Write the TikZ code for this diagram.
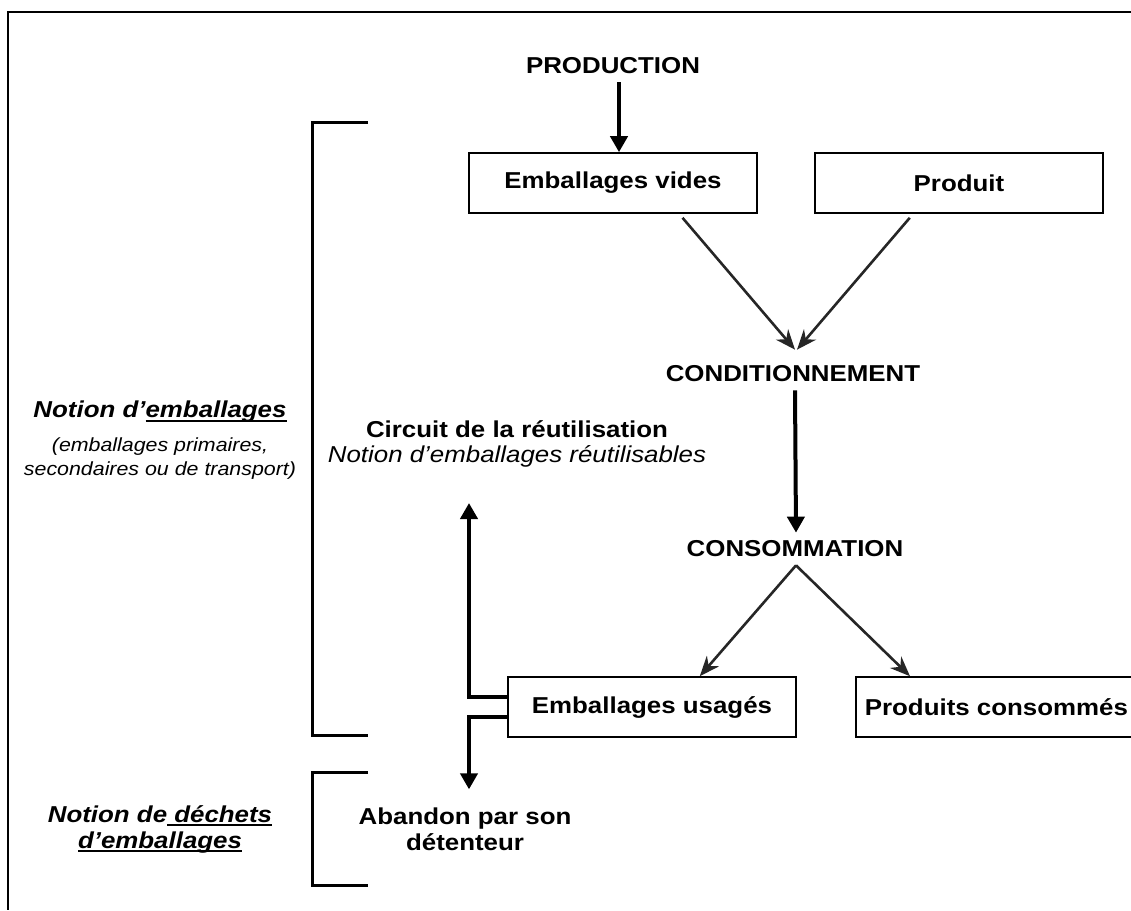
\documentclass[tikz,border=0pt]{standalone}
\usepackage{fontspec}
\setmainfont[FakeStretch=1.125]{Liberation Sans}
\usetikzlibrary{arrows.meta}
\usetikzlibrary{calc}

\newcommand{\souligne}[1]{\leavevmode\setbox0=\hbox{#1}\rlap{\rule[-4pt]{\wd0}{1.6pt}}\box0}

\tikzset{
  boite/.style={draw, line width=1.6pt, minimum width=288pt, minimum height=60pt, inner sep=0pt, font=\fontsize{23}{27}\selectfont\bfseries},
  titre/.style={inner xsep=2pt, inner ysep=8pt, font=\fontsize{23}{27}\selectfont\bfseries},
  fleche/.style={line width=4pt, -{Triangle[length=16pt,width=17pt]}},
  oblique/.style={line width=2.6pt, draw=black!85, -{Stealth[length=20pt,width=16pt]}},
  accolade/.style={line width=3pt},
}

\begin{document}
\begin{tikzpicture}[x=1pt,y=-1pt]
\useasboundingbox (0,0) rectangle (1131,910);
% cadre
\draw[line width=1.5pt] (1131,12) -- (8,12) -- (8,910);

% chaine principale
\node[titre] (prod) at (613,66) {PRODUCTION};
\node[boite] (vides) at (613,183) {Emballages vides};
\node[boite] (produit) at (959,183) {Produit};
\node[titre] (cond) at (793,374) {CONDITIONNEMENT};
\node[titre] (conso) at (795,549) {CONSOMMATION};
\node[boite] (usages) at (652,707) {Emballages usagés};
\node[boite, anchor=west, minimum width=0pt, inner xsep=9pt] (consommes) at (855,707) {Produits consommés};
\node[titre, align=center, font=\fontsize{23}{26}\selectfont\bfseries] (aband) at (465,829) {Abandon par son\\détenteur};
\node[align=center, font=\fontsize{23}{25}\selectfont] (circuit) at (517,444) {\textbf{Circuit de la réutilisation}\\\textit{Notion d’emballages réutilisables}};

\draw[fleche] ([xshift=6pt]prod.south) -- ([xshift=6pt]vides.north);
\draw[oblique] ([yshift=-4pt]$(vides.south west)!0.74!(vides.south east)$) -- ([xshift=2pt,yshift=8pt]cond.north);
\draw[oblique] ([yshift=-4pt]$(produit.south west)!0.33!(produit.south east)$) -- ([xshift=4pt,yshift=8pt]cond.north);
\draw[fleche] ([xshift=2pt]cond.south) -- ([xshift=1pt]conso.north);
\draw[oblique] ([xshift=1pt]conso.south) -- ($(usages.north west)!0.665!(usages.north east)$);
\draw[oblique] ([xshift=1pt]conso.south) -- ([xshift=55pt]consommes.north west);

% reutilisation et abandon
\coordinate (reprise) at (469,503);
\draw[fleche] ([yshift=10pt]usages.west) -| (reprise);
\draw[fleche] ([yshift=-10pt]usages.west) -| ([xshift=4pt,yshift=10pt]aband.north);

% notions a gauche
\node[align=center, font=\fontsize{23}{27}\selectfont\bfseries\itshape] (notion) at (160,412) {Notion d’\souligne{emballages}};
\node[align=center, font=\fontsize{19}{24}\selectfont\itshape] (types) at (160,459) {(emballages primaires,\\secondaires ou de transport)};
\node[align=center, font=\fontsize{23}{26}\selectfont\bfseries\itshape] (dechets) at (160,829) {Notion de\souligne{\ déchets}\\\souligne{d’emballages}};
\draw[accolade] (368,122) -- (312,122) -- (312,735) -- (368,735);
\draw[accolade] (368,772) -- (312,772) -- (312,885) -- (368,885);
\end{tikzpicture}
\end{document}
